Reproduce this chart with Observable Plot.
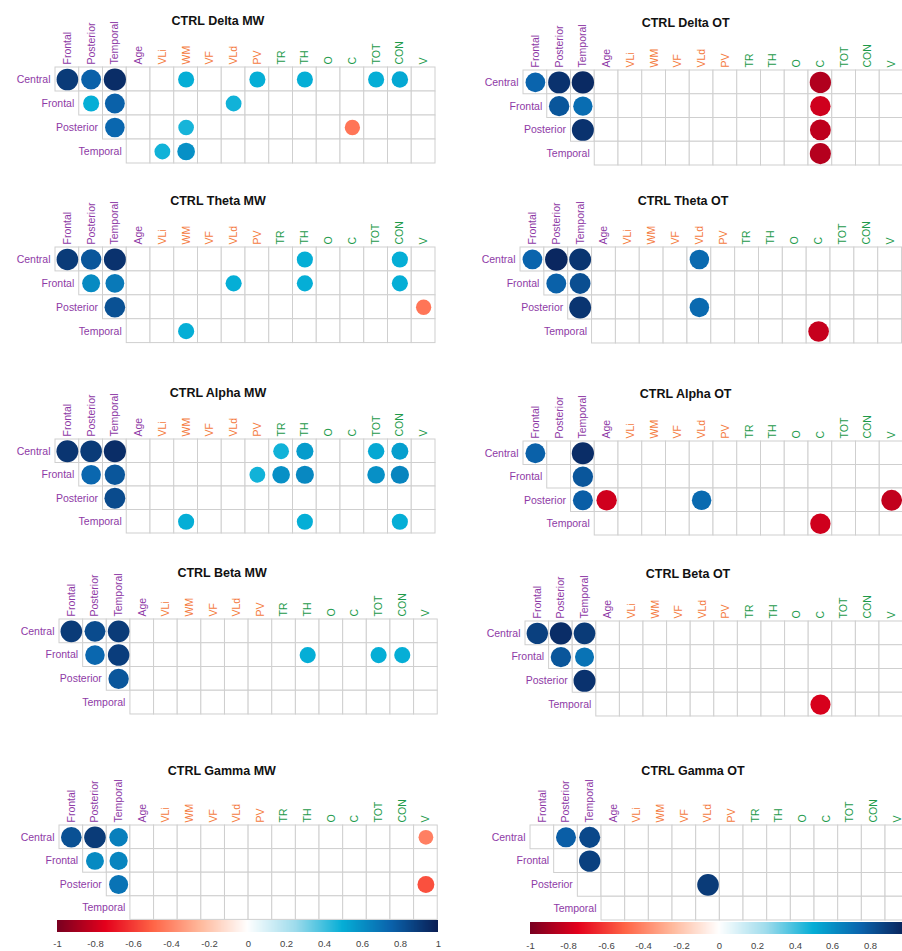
<!DOCTYPE html>
<html>
<head>
<meta charset="utf-8">
<script src="https://cdn.jsdelivr.net/npm/d3@7"></script>
<script src="https://cdn.jsdelivr.net/npm/@observablehq/plot@0.6"></script>
<style>
  html, body { margin: 0; padding: 0; background: #fff; overflow: hidden; }
  #fig { position: relative; width: 902px; height: 951px; overflow: hidden; background: #fff; }
  #fig svg text { font-family: "Liberation Sans", Arial, sans-serif; }
  .pnl { position: absolute; }
  .ttl { position: absolute; width: 240px; text-align: center; color: #111;
         font: bold 12.5px/14px "Liberation Sans", Arial, sans-serif; white-space: nowrap; }
</style>
</head>
<body>
<div id="fig"></div>
<script>
// Matrix rows (EEG regions) and columns (regions, then behavioural scores)
const rowVars = ["Central", "Frontal", "Posterior", "Temporal"];
const regionCols = ["Frontal", "Posterior", "Temporal"];
const demoCols = ["Age"];
const orangeCols = ["VLi", "WM", "VF", "VLd", "PV"];
const greenCols = ["TR", "TH", "O", "C", "TOT", "CON", "V"];
const colVars = [...regionCols, ...demoCols, ...orangeCols, ...greenCols];

// Significant correlations: [row, column, r]
const deltaMW = [
  ["Central", "Frontal", 0.9], ["Central", "Posterior", 0.76], ["Central", "Temporal", 0.95],
  ["Central", "WM", 0.5], ["Central", "PV", 0.5], ["Central", "TH", 0.5], ["Central", "TOT", 0.5], ["Central", "CON", 0.52],
  ["Frontal", "Posterior", 0.5], ["Frontal", "Temporal", 0.76], ["Frontal", "VLd", 0.48],
  ["Posterior", "Temporal", 0.74], ["Posterior", "WM", 0.47], ["Posterior", "C", -0.45],
  ["Temporal", "VLi", 0.48], ["Temporal", "WM", 0.6]
];
const deltaOT = [
  ["Central", "Frontal", 0.75], ["Central", "Posterior", 0.93], ["Central", "Temporal", 0.96], ["Central", "C", -0.87],
  ["Frontal", "Posterior", 0.8], ["Frontal", "Temporal", 0.72], ["Frontal", "C", -0.8],
  ["Posterior", "Temporal", 0.93], ["Posterior", "C", -0.84],
  ["Temporal", "C", -0.86]
];
const thetaMW = [
  ["Central", "Frontal", 0.9], ["Central", "Posterior", 0.8], ["Central", "Temporal", 0.93],
  ["Central", "TH", 0.5], ["Central", "CON", 0.5],
  ["Frontal", "Posterior", 0.62], ["Frontal", "Temporal", 0.68], ["Frontal", "VLd", 0.5], ["Frontal", "TH", 0.5], ["Frontal", "CON", 0.5],
  ["Posterior", "Temporal", 0.82], ["Posterior", "V", -0.45],
  ["Temporal", "WM", 0.5]
];
const thetaOT = [
  ["Central", "Frontal", 0.75], ["Central", "Posterior", 0.97], ["Central", "Temporal", 0.92], ["Central", "VLd", 0.73],
  ["Frontal", "Posterior", 0.76], ["Frontal", "Temporal", 0.83],
  ["Posterior", "Temporal", 0.92], ["Posterior", "VLd", 0.73],
  ["Temporal", "C", -0.82]
];
const alphaMW = [
  ["Central", "Frontal", 0.92], ["Central", "Posterior", 0.9], ["Central", "Temporal", 0.95],
  ["Central", "TR", 0.48], ["Central", "TH", 0.56], ["Central", "TOT", 0.52], ["Central", "CON", 0.55],
  ["Frontal", "Posterior", 0.74], ["Frontal", "Temporal", 0.8], ["Frontal", "PV", 0.48], ["Frontal", "TR", 0.6],
  ["Frontal", "TH", 0.63], ["Frontal", "TOT", 0.6], ["Frontal", "CON", 0.64],
  ["Posterior", "Temporal", 0.84],
  ["Temporal", "WM", 0.5], ["Temporal", "TH", 0.5], ["Temporal", "CON", 0.5]
];
const alphaOT = [
  ["Central", "Frontal", 0.76], ["Central", "Temporal", 0.95],
  ["Frontal", "Temporal", 0.8],
  ["Posterior", "Temporal", 0.77], ["Posterior", "Age", -0.8], ["Posterior", "VLd", 0.73], ["Posterior", "V", -0.83],
  ["Temporal", "C", -0.8]
];
const betaMW = [
  ["Central", "Frontal", 0.9], ["Central", "Posterior", 0.84], ["Central", "Temporal", 0.9],
  ["Frontal", "Posterior", 0.74], ["Frontal", "Temporal", 0.89], ["Frontal", "TH", 0.5], ["Frontal", "TOT", 0.5], ["Frontal", "CON", 0.5],
  ["Posterior", "Temporal", 0.8]
];
const betaOT = [
  ["Central", "Frontal", 0.88], ["Central", "Posterior", 0.95], ["Central", "Temporal", 0.9],
  ["Frontal", "Posterior", 0.8], ["Frontal", "Temporal", 0.7],
  ["Posterior", "Temporal", 0.93],
  ["Temporal", "C", -0.78]
];
const gammaMW = [
  ["Central", "Frontal", 0.82], ["Central", "Posterior", 0.9], ["Central", "Temporal", 0.66], ["Central", "V", -0.42],
  ["Frontal", "Posterior", 0.62], ["Frontal", "Temporal", 0.64],
  ["Posterior", "Temporal", 0.7], ["Posterior", "V", -0.55]
];
const gammaOT = [
  ["Central", "Posterior", 0.77], ["Central", "Temporal", 0.85],
  ["Frontal", "Temporal", 0.88],
  ["Posterior", "VLd", 0.9]
];

const titlesMW = ["CTRL Delta MW", "CTRL Theta MW", "CTRL Alpha MW", "CTRL Beta MW", "CTRL Gamma MW"];
const titlesOT = ["CTRL Delta OT", "CTRL Theta OT", "CTRL Alpha OT", "CTRL Beta OT", "CTRL Gamma OT"];
const colorTicks = [-1, -0.8, -0.6, -0.4, -0.2, 0, 0.2, 0.4, 0.6, 0.8, 1];

// Diverging red–white–blue ramp for r in [-1, 1]
const corrDomain = [-1, -0.75, -0.5, -0.25, 0, 0.25, 0.5, 0.75, 1];
const corrColors = ["#7a0020", "#e4001c", "#ff6446", "#ffb99c", "#ffffff", "#9fdcec", "#05aed6", "#0a64ad", "#0a1f55"];
const colorOpts = {type: "linear", domain: corrDomain, range: corrColors, interpolate: "rgb"};

const purple = "#8e3aa6", orange = "#f47b3e", green = "#1c9a4a";
const fontFamily = "'Liberation Sans', Arial, sans-serif";

// Grid placement of each panel: left/top of the grid, cell size, title offset
const layoutMW = [
  {gx: 55, gy: 67, cw: 23.75, ch: 24, ty: -46},
  {gx: 55, gy: 246.7, cw: 23.75, ch: 23.9, ty: -46},
  {gx: 55, gy: 439.3, cw: 23.75, ch: 23.5, ty: -46.3},
  {gx: 59.1, gy: 619.3, cw: 23.64, ch: 23.75, ty: -46.3},
  {gx: 58.8, gy: 825, cw: 23.64, ch: 23.6, ty: -54.3}
];
const layoutOT = [
  {gx: 522.7, gy: 70, cw: 23.75, ch: 23.75, ty: -46.7},
  {gx: 520, gy: 246.7, cw: 23.85, ch: 24, ty: -46},
  {gx: 522.7, gy: 441, cw: 23.75, ch: 23.5, ty: -47},
  {gx: 525, gy: 621, cw: 23.6, ch: 23.75, ty: -47},
  {gx: 530, gy: 825, cw: 23.67, ch: 23.75, ty: -54.3}
];
const legendLayout = [
  {x: 57.3, y: 920, w: 381},
  {x: 530, y: 921.7, w: 378}
];
const figWidth = 902;

const fig = document.getElementById("fig");

function drawPanel(title, data, L) {
  const mL = 50, mT = 62;
  const W = mL + colVars.length * L.cw + 2;
  const H = mT + rowVars.length * L.ch + 2;
  // upper-triangular layout: row i starts at column i
  const cells = rowVars.flatMap((r, i) => colVars.slice(i).map(c => ({row: r, col: c})));
  const dots = data.map(([row, col, value]) => ({row, col, value}));
  const headerY = () => rowVars[0];
  const headerOpts = {x: d => d, y: headerY, dy: -L.ch / 2 - 3, rotate: -90, textAnchor: "start", fontSize: 10.5};

  const svg = Plot.plot({
    width: W,
    height: H,
    margin: 0,
    style: {background: "transparent", fontFamily, overflow: "visible"},
    x: {type: "band", domain: colVars, range: [mL, mL + colVars.length * L.cw], padding: 0, round: false, axis: null},
    y: {type: "band", domain: rowVars, range: [mT, mT + rowVars.length * L.ch], padding: 0, round: false, axis: null},
    color: colorOpts,
    r: {type: "sqrt", domain: [0, 1], range: [0, 11.4]},
    marks: [
      Plot.cell(cells, {x: "col", y: "row", fill: "white", stroke: "#cfcfcf", strokeWidth: 1}),
      Plot.dot(dots, {x: "col", y: "row", r: d => Math.abs(d.value), fill: "value"}),
      Plot.text([...regionCols, ...demoCols], {...headerOpts, fill: purple}),
      Plot.text(orangeCols, {...headerOpts, fill: orange}),
      Plot.text(greenCols, {...headerOpts, fill: green}),
      Plot.text(rowVars, {x: (d, i) => colVars[i], y: d => d, dx: -L.cw / 2 - 5, textAnchor: "end", fill: purple, fontSize: 10.5})
    ]
  });
  svg.classList.add("pnl");
  svg.style.left = (L.gx - mL) + "px";
  svg.style.top = (L.gy - mT) + "px";
  svg.style.maxWidth = "none";
  fig.appendChild(svg);

  const t = document.createElement("div");
  t.className = "ttl";
  t.textContent = title;
  t.style.left = (L.gx + 163 - 120) + "px";
  t.style.top = (L.gy + L.ty - 7) + "px";
  fig.appendChild(t);
}

function drawLegend(L) {
  const m = 14;
  // only the tick labels that fall inside the figure
  const ticks = colorTicks.filter(v => L.x + (v + 1) / 2 * L.w + 6 <= figWidth);
  const leg = Plot.legend({
    color: colorOpts,
    label: null,
    width: L.w + 2 * m,
    height: 34,
    marginTop: 0,
    marginBottom: 22,
    marginLeft: m,
    marginRight: m,
    ticks,
    tickSize: 5,
    tickFormat: d => String(d),
    style: {background: "transparent", fontFamily, fontSize: "9.5px", color: "#444", overflow: "visible"}
  });
  leg.querySelectorAll(".tick line").forEach(l => l.remove());
  leg.querySelectorAll("text").forEach(t => t.setAttribute("font-size", "9.5"));
  leg.classList.add("pnl");
  leg.style.left = (L.x - m) + "px";
  leg.style.top = L.y + "px";
  leg.style.maxWidth = "none";
  fig.appendChild(leg);
}

const dataMW = [deltaMW, thetaMW, alphaMW, betaMW, gammaMW];
const dataOT = [deltaOT, thetaOT, alphaOT, betaOT, gammaOT];
dataMW.forEach((d, i) => drawPanel(titlesMW[i], d, layoutMW[i]));
dataOT.forEach((d, i) => drawPanel(titlesOT[i], d, layoutOT[i]));
legendLayout.forEach(drawLegend);
</script>
</body>
</html>
